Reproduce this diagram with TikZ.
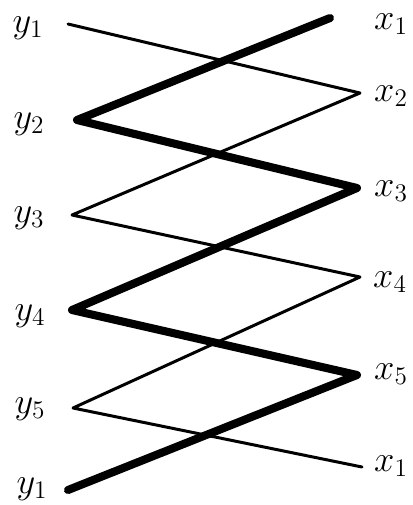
\documentclass[tikz,border=0pt]{standalone}
\usepackage{tikz}
\tikzset{
  thinzig/.style={line width=1.7pt, line join=round, line cap=round},
  thickzig/.style={line width=4.6pt, line join=round, line cap=round},
  lab/.style={inner sep=0pt, font=\fontsize{20}{24}\selectfont}
}
\begin{document}
\begin{tikzpicture}[x=0.02cm,y=-0.02cm]
        \useasboundingbox (0,0) rectangle (413,505);
        % left turning points
        \coordinate (ya) at (68,24);
        \coordinate (yb) at (77,120);
        \coordinate (yc) at (72,215);
        \coordinate (yd) at (72,310);
        \coordinate (ye) at (73,408);
        \coordinate (yf) at (68,490);
        % right turning points
        \coordinate (xa) at (330,18);
        \coordinate (xb) at (360,93);
        \coordinate (xc) at (357,188);
        \coordinate (xd) at (360,277);
        \coordinate (xe) at (357,375);
        \coordinate (xf) at (362,467);
        % labels
        \node [lab] (ly1) at (28,28) {$y_1$};
        \node [lab] (ly2) at (29,124) {$y_2$};
        \node [lab] (ly3) at (29,218) {$y_3$};
        \node [lab] (ly4) at (30,316) {$y_4$};
        \node [lab] (ly5) at (30,409) {$y_5$};
        \node [lab] (ly6) at (32,489) {$y_1$};
        \node [lab] (lx1) at (391,24) {$x_1$};
        \node [lab] (lx2) at (391,96) {$x_2$};
        \node [lab] (lx3) at (391,191) {$x_3$};
        \node [lab] (lx4) at (390,282) {$x_4$};
        \node [lab] (lx5) at (391,374) {$x_5$};
        \node [lab] (lx6) at (391,466) {$x_1$};
        % thin zigzag
        \draw [thinzig] (ya) -- (xb) -- (yc) -- (xd) -- (ye) -- (xf);
        % thick zigzag
        \draw [thickzig] (xa) -- (yb) -- (xc) -- (yd) -- (xe) -- (yf);
\end{tikzpicture}
\end{document}
